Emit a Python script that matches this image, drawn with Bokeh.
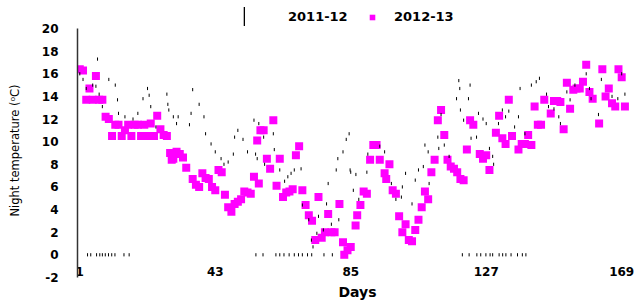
import numpy as np
from bokeh.plotting import figure
from bokeh.models import FixedTicker, Legend, LegendItem, Range1d
from bokeh.embed import file_html
from bokeh.resources import INLINE

# ---- 2011-12 night temperature (black dash markers) ----
days_1112 = [1, 2, 3, 5, 6, 6.5, 7, 8, 10, 12, 12.7, 13, 15, 17.5, 19, 20.6, 22, 22.5, 23, 24.6,
             28, 28.3, 28.6, 30, 31, 31.5, 35, 35.5, 36, 38, 39.5, 40, 41.7, 43, 44.8, 45.7, 47,
             48.6, 49, 50, 51.6, 53, 55, 55.5, 56, 56.5, 58, 58.3, 61, 61.3, 63, 64.5, 65.5, 66.5,
             67.5, 69.6, 70, 72, 72.8, 73.3, 74.5, 75, 76.5, 77.5, 78, 79, 80.5, 81, 81.3, 82.6,
             83.6, 84.5, 84.8, 85, 85.8, 86.6, 87.5, 90, 90.3, 94, 95.5, 97.6, 99, 100.7, 101, 102,
             104, 105, 106, 107.5, 108, 109, 109.3, 112, 112.3, 113, 114, 115.5, 117.8, 118.5,
             118.8, 119, 120, 121.5, 122, 122.3, 124, 124.6, 126, 127, 128, 129, 129.3, 130.8, 132,
             133, 134, 135.8, 137, 137.5, 139, 141, 142.5, 143.5, 145.7, 146.3, 148, 149.5, 150,
             152, 153, 154.5, 158, 159, 159.5, 161.8, 162.7, 166, 167.8, 169, 170]
temp_1112 = [16.0, 15.5, 14.7, 15.0, 14.9, 17.3, 14.2, 13.1, 15.5, 15.0, 13.7, 12.5, 12.2, 12.0,
             12.5, 13.8, 14.7, 14.1, 13.1, 11.3, 14.2, 13.3, 12.8, 12.2, 11.6, 12.2, 11.5, 12.5,
             14.6, 13.3, 12.2, 10.7, 9.8, 9.1, 8.5, 8.0, 8.2, 8.9, 10.4, 11.0, 10.2, 9.1, 11.9,
             8.9, 8.5, 11.6, 10.4, 8.0, 10.7, 9.3, 7.5, 6.5, 6.9, 7.2, 7.5, 7.6, 4.4, 3.1, 1.3,
             0.7, 1.9, 3.4, 2.2, 4.5, 6.3, 2.7, 7.5, 8.5, 3.1, 9.1, 10.2, 10.7, 7.5, 7.3, 5.7, 7.1,
             4.9, 7.3, 8.9, 9.6, 9.1, 6.3, 4.9, 5.1, 6.0, 7.2, 4.5, 6.6, 7.5, 7.8, 9.7, 9.1, 6.3,
             10.4, 9.4, 12.4, 9.7, 8.7, 13.8, 15.4, 14.7, 12.8, 11.9, 13.8, 15.0, 10.3, 10.4, 12.5,
             12.0, 11.6, 9.4, 8.7, 8.0, 11.6, 12.8, 12.2, 12.7, 11.3, 12.2, 14.7, 10.7, 15.0, 15.3,
             15.6, 14.2, 13.1, 12.9, 12.2, 11.6, 14.4, 13.7, 15.0, 16.0, 14.7, 13.8, 12.4, 15.5,
             14.0, 13.8, 16.0, 14.2]
# days of 2011-12 recorded at 0
zero_days_1112 = [3.4, 4.4, 6.2, 7.2, 8.0, 8.9, 9.9, 10.9, 11.9, 14.7, 16.3,
                  55.6, 57.8, 61.8, 63.0, 64.3, 65.9, 67.5, 68.8, 70.0, 71.6, 72.9, 76.7, 79.3,
                  119.6, 121.7, 124.1, 125.3, 126.9, 128.2, 129.0, 131.0, 132.1, 133.1, 134.7,
                  136.7, 138.2, 139.3]
zero_temp_1112 = [0.0] * len(zero_days_1112)

# ---- 2012-13 night temperature (magenta squares) ----
days_1213 = [1, 2, 3, 4, 5, 6, 7, 8, 9, 10, 11, 12, 13, 14, 15, 16, 17, 18, 19, 20, 21, 22, 23,
             24, 25, 26, 27, 28, 29, 29.5, 30, 31, 32, 33, 34, 36, 37, 38, 39, 40, 41, 42, 43, 44,
             45, 46, 47, 48, 49, 50, 51, 52, 53, 54, 55, 56, 56.5, 57, 58, 59, 60, 61, 62, 63, 64,
             65, 66, 67, 68, 69, 70, 71, 72, 73, 74, 75, 76, 77, 78, 79, 80, 81.5, 82.6, 83, 84,
             85, 86.5, 87, 88, 89, 90, 91, 92, 93, 94, 95.5, 96, 97, 98, 99, 100, 101, 102, 103,
             104, 105, 106, 107, 108, 109, 110, 111, 112, 113, 114, 115, 116, 117, 118, 119, 120,
             121, 122, 123, 125, 126, 127, 128, 130, 131, 132, 133, 134, 135, 137, 138, 139, 140,
             141, 142, 143, 144, 145, 147, 148, 149, 150, 151, 152, 153, 154, 155, 156, 157, 158,
             159, 160, 162, 163, 164, 165, 166, 167, 168, 169, 170]
temp_1213 = [16.4, 16.3, 13.7, 14.7, 13.7, 15.8, 13.7, 13.7, 12.2, 12.0, 10.5, 11.5, 11.5, 10.5,
             11.0, 11.5, 10.5, 11.5, 11.5, 10.5, 11.5, 10.5, 11.6, 10.5, 12.3, 11.1, 10.6, 10.5,
             9.0, 8.4, 8.5, 9.1, 8.9, 8.6, 7.7, 6.7, 6.2, 6.0, 7.2, 6.8, 6.7, 6.0, 5.7, 7.5, 7.3,
             5.3, 4.2, 3.8, 4.5, 4.7, 4.9, 5.6, 5.5, 5.4, 6.9, 10.1, 6.3, 11.0, 11.0, 8.5, 7.6,
             11.9, 6.1, 8.5, 5.1, 5.5, 5.6, 5.8, 8.8, 9.6, 5.7, 4.4, 3.5, 3.0, 1.3, 5.1, 1.5, 2.0,
             3.6, 2.0, 2.0, 4.5, 1.1, 0.0, 0.4, 0.7, 2.6, 3.5, 4.4, 5.6, 5.4, 8.4, 9.7, 9.7, 8.4,
             7.2, 6.7, 8.0, 5.7, 5.4, 3.4, 2.0, 2.7, 1.3, 1.2, 2.2, 3.1, 4.2, 5.6, 4.9, 7.3, 8.4,
             11.9, 12.8, 10.6, 8.4, 7.8, 7.6, 7.3, 6.7, 6.6, 9.3, 11.9, 11.5, 8.9, 8.5, 8.8, 7.5,
             10.8, 12.3, 10.3, 9.8, 13.7, 10.5, 9.3, 9.8, 9.8, 10.6, 9.7, 13.1, 11.5, 11.5, 13.7,
             12.5, 13.6, 13.6, 13.5, 11.1, 15.2, 12.9, 14.6, 14.7, 14.7, 15.3, 16.8, 14.4, 13.8,
             11.6, 16.4, 14.0, 14.7, 13.4, 13.1, 16.4, 15.7, 13.1]

x_ticks = [1, 43, 85, 127, 169]
y_ticks = [-2, 0, 2, 4, 6, 8, 10, 12, 14, 16, 18, 20]
y_tick_labels = {-2: "-2"}
series_labels = ["2011-12", "2012-13"]

p = figure(width=637, height=300, output_backend="svg", toolbar_location=None,
           x_range=Range1d(0.29, 173.9), y_range=Range1d(-4.04, 22.48),
           min_border_left=77, min_border_right=0, min_border_top=0, min_border_bottom=0,
           background_fill_color="white", border_fill_color="white")
p.outline_line_color = None
p.grid.visible = False

r_mag = p.scatter(days_1213, temp_1213, marker="square", size=8,
                  fill_color="#FF00FF", line_color=None)
r_blk = p.scatter(days_1112 + zero_days_1112, temp_1112 + zero_temp_1112, marker="dash",
                  angle=np.pi / 2, size=3.2, line_color="black", line_width=1.0)
# legend proxy for the 2011-12 series (a tall vertical bar); NaN row so nothing is plotted
r_leg = p.vbar(x=[float("nan")], top=[float("nan")], width=0.5,
               fill_color="black", line_color=None)

# axes
p.yaxis.ticker = FixedTicker(ticks=y_ticks)
p.yaxis.major_label_overrides = y_tick_labels
p.yaxis.bounds = (-2, 20)
p.yaxis.axis_line_color = "#333333"
p.yaxis.axis_line_width = 1.5
p.yaxis.major_tick_line_color = None
p.yaxis.minor_tick_line_color = None
p.yaxis.major_label_standoff = 13
p.yaxis.major_label_text_font = "DejaVu Sans"
p.yaxis.major_label_text_font_style = "bold"
p.yaxis.major_label_text_font_size = "12px"
p.yaxis.major_label_text_color = "black"
p.yaxis.axis_label = "Night temperature (\u2070C)"
p.yaxis.axis_label_text_font = "DejaVu Sans"
p.yaxis.axis_label_text_font_style = "normal"
p.yaxis.axis_label_text_font_size = "11.5px"
p.yaxis.axis_label_text_color = "black"
p.yaxis.axis_label_standoff = 17

p.xaxis.ticker = FixedTicker(ticks=x_ticks)
p.xaxis.fixed_location = -0.5
p.xaxis.axis_line_color = None
p.xaxis.major_tick_line_color = None
p.xaxis.minor_tick_line_color = None
p.xaxis.major_label_standoff = 1
p.xaxis.major_label_text_font = "DejaVu Sans"
p.xaxis.major_label_text_font_style = "bold"
p.xaxis.major_label_text_font_size = "12px"
p.xaxis.major_label_text_color = "black"
p.xaxis.axis_label = "Days"
p.xaxis.axis_label_text_font = "DejaVu Sans"
p.xaxis.axis_label_text_font_style = "bold"
p.xaxis.axis_label_text_font_size = "14px"
p.xaxis.axis_label_text_color = "black"
p.xaxis.axis_label_standoff = 4

def make_legend(item, loc, gw, gh, standoff):
    lg = Legend(items=[item], location=loc, orientation="horizontal",
                glyph_width=gw, glyph_height=gh, label_height=gh, label_standoff=standoff,
                padding=0, margin=0, spacing=0, border_line_color=None,
                background_fill_alpha=0, label_text_font="DejaVu Sans",
                label_text_font_style="bold", label_text_font_size="13px",
                label_text_color="black")
    return lg

leg1 = make_legend(LegendItem(label=series_labels[0], renderers=[r_leg]), (166, 272), 2, 24, 43)
leg2 = make_legend(LegendItem(label=series_labels[1], renderers=[r_mag]), (288, 276), 14, 14, 15)
p.add_layout(leg1, "center")
p.add_layout(leg2, "center")

open("out.html", "w").write(file_html(p, INLINE))
